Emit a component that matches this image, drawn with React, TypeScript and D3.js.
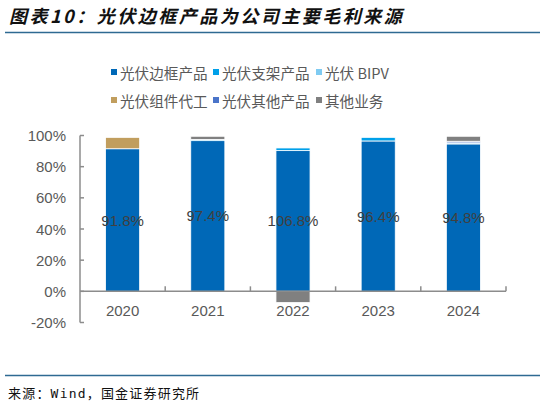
import React from "react";
import * as d3 from "d3";

const categories = ["2020", "2021", "2022", "2023", "2024"];
const seriesNames = ["光伏边框产品", "光伏支架产品", "光伏 BIPV", "光伏组件代工", "光伏其他产品", "其他业务"];
const seriesColors = ["#0068B7", "#00A0E9", "#7FCBF2", "#C19E5E", "#4A74C9", "#808080"];
// Visual shares (percent of axis)
const frameShare = [91.5, 96.7, 90.3, 96.5, 94.6];
const supportShare = [0, 0.8, 1.7, 2.3, 0];
const bipvShare = [0, 0, 0, 0, 0.7];
const moduleShare = [7.3, 0, 0, 0, 0];
const otherProdShare = [0, 0, 0, 0, 1.0];
const otherBizShare = [0, 2.0, -7.2, 0, 3.2];
// Data labels (frame gross-profit share)
const frameLabels = [91.8, 97.4, 106.8, 96.4, 94.8];
const yTicks = [-20, 0, 20, 40, 60, 80, 100];

const W = 540;
const H = 404;
const plotLeft = 80;
const plotRight = 506;
const yTop = 135.5;
const yBottom = 322.5;

export default function App() {
  const seriesValues = [frameShare, supportShare, bipvShare, moduleShare, otherProdShare, otherBizShare];
  const rows = categories.map((c, i) => {
    const r: any = { cat: c };
    seriesNames.forEach((s, k) => (r[s] = seriesValues[k][i]));
    return r;
  });
  const stack = d3.stack<any>().keys(seriesNames).offset(d3.stackOffsetDiverging);
  const stacked = stack(rows);

  const x = d3.scaleBand<string>().domain(categories).range([plotLeft, plotRight]).paddingInner(0.6).paddingOuter(0.3);
  const y = d3.scaleLinear().domain([-20, 100]).range([yBottom, yTop]);
  const step = x.step();
  const font = "'Liberation Sans', Arial, sans-serif";
  const cjk = "'Noto Sans CJK SC', 'Noto Sans', sans-serif";
  const axisColor = "#8C8C8C";
  const textColor = "#595959";

  const legendCols = [111, 213, 316];
  const legendRows = [72, 100];

  return (
    <svg width={W} height={H} style={{ position: "absolute", left: 0, top: 0, background: "#fff" }}>
      {/* Title */}
      <text x={9} y={23} fontFamily={cjk} fontSize={18} fontWeight="bold" fontStyle="italic" letterSpacing={2.5} fill="#111">
        图表10：光伏边框产品为公司主要毛利来源
      </text>
      <line x1={5} x2={540} y1={32.5} y2={32.5} stroke="#2E6A92" strokeWidth={1.5} />

      {/* Legend */}
      {seriesNames.map((s, k) => {
        const lx = legendCols[k % 3];
        const ly = legendRows[Math.floor(k / 3)];
        return (
          <g key={s}>
            <rect x={lx} y={ly - 3} width={6} height={6} fill={seriesColors[k]} />
            <text x={lx + 9} y={ly} dominantBaseline="central" fontFamily={cjk} fontSize={14.6} fill={textColor}>
              {s}
            </text>
          </g>
        );
      })}

      {/* Bars */}
      {stacked.map((layer, k) => (
        <g key={layer.key} fill={seriesColors[k]}>
          {layer.map((d, i) => {
            const y0 = y(Math.max(d[0], d[1]));
            const y1 = y(Math.min(d[0], d[1]));
            if (Math.abs(d[1] - d[0]) < 1e-9) return null;
            return (
              <rect
                key={i}
                x={x(categories[i])}
                y={y0}
                width={x.bandwidth()}
                height={y1 - y0}
                stroke="#ffffff"
                strokeWidth={0.8}
              />
            );
          })}
        </g>
      ))}

      {/* Y axis */}
      <line x1={plotLeft} x2={plotLeft} y1={yTop} y2={yBottom} stroke={axisColor} strokeWidth={1.5} />
      {yTicks.map((t) => (
        <g key={t}>
          <line x1={plotLeft} x2={plotLeft + 4} y1={y(t)} y2={y(t)} stroke={axisColor} strokeWidth={1.5} />
          <text x={66} y={y(t)} textAnchor="end" dominantBaseline="central" fontFamily={font} fontSize={15} fill={textColor}>
            {t}%
          </text>
        </g>
      ))}

      {/* X axis at zero */}
      <line x1={plotLeft} x2={plotRight} y1={y(0)} y2={y(0)} stroke={axisColor} strokeWidth={1.5} />
      {categories.map((c, i) => (
        <line
          key={"tk" + c}
          x1={plotLeft + step * (i + 1)}
          x2={plotLeft + step * (i + 1)}
          y1={y(0)}
          y2={y(0) - 5}
          stroke={axisColor}
          strokeWidth={1.5}
        />
      ))}
      {categories.map((c) => (
        <text
          key={"xl" + c}
          x={(x(c) as number) + x.bandwidth() / 2}
          y={y(0) + 19}
          textAnchor="middle"
          dominantBaseline="central"
          fontFamily={font}
          fontSize={15}
          fill={textColor}
        >
          {c}
        </text>
      ))}

      {/* Data labels */}
      {categories.map((c, i) => (
        <text
          key={"dl" + c}
          x={(x(c) as number) + x.bandwidth() / 2}
          y={y(frameShare[i] / 2)}
          textAnchor="middle"
          dominantBaseline="central"
          fontFamily={font}
          fontSize={15}
          fill="#404040"
        >
          {frameLabels[i].toFixed(1)}%
        </text>
      ))}

      {/* Footer */}
      <line x1={5} x2={540} y1={375.5} y2={375.5} stroke="#2E6A92" strokeWidth={1.5} />
      <text x={8} y={393} dominantBaseline="central" fontFamily="'DejaVu Sans Mono', 'Noto Sans CJK SC', monospace" fontSize={13} letterSpacing={1.2} fill="#111">
        来源：Wind，国金证券研究所
      </text>
    </svg>
  );
}
